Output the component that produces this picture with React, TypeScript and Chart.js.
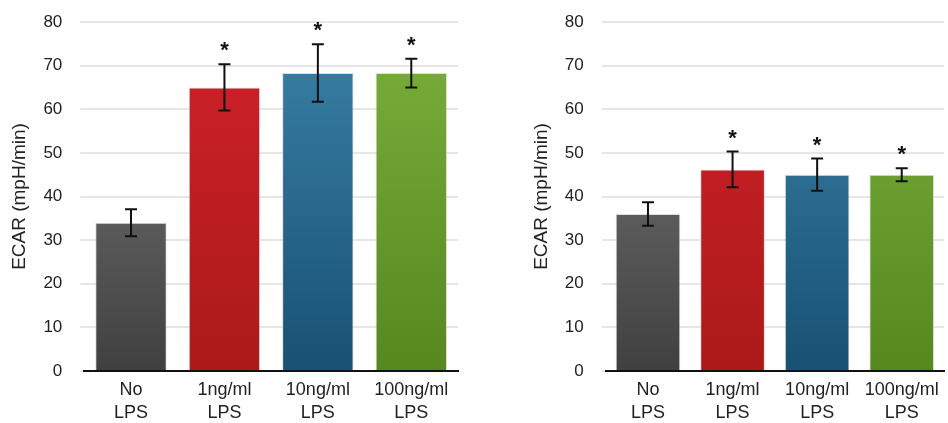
import React, { useEffect, useRef } from "react";
import { Chart, registerables } from "chart.js";

Chart.register(...registerables);

// Categories shown under both panels
const categories: string[][] = [
  ["No", "LPS"],
  ["1ng/ml", "LPS"],
  ["10ng/ml", "LPS"],
  ["100ng/ml", "LPS"],
];

// Left panel: ECAR means and error (±)
const leftValues = [34.0, 65.0, 68.3, 68.3];
const leftErrors = [3.1, 5.3, 6.6, 3.3];
const leftSignificant = [false, true, true, true];

// Right panel: ECAR means and error (±)
const rightValues = [36.0, 46.2, 45.0, 45.0];
const rightErrors = [2.7, 4.1, 3.7, 1.5];
const rightSignificant = [false, true, true, true];

const yTicks = [0, 10, 20, 30, 40, 50, 60, 70, 80];
const yTitle = "ECAR (mpH/min)";

// Gradient stops (top, bottom) per bar
const barGradients: [string, string][] = [
  ["#7d7d7d", "#404040"],
  ["#d0212a", "#ab1a19"],
  ["#3b82a8", "#175173"],
  ["#7bb03c", "#56881f"],
];

const FONT = "'Liberation Sans', Arial, Helvetica, sans-serif";

const errorBarPlugin = {
  id: "errorBars",
  afterDatasetsDraw(chart: any) {
    const opts = chart.options.plugins.errorBars;
    if (!opts) return;
    const { errors, significant } = opts;
    const meta = chart.getDatasetMeta(0);
    const yScale = chart.scales.y;
    const values = chart.data.datasets[0].data as number[];
    const ctx = chart.ctx;
    ctx.save();
    ctx.strokeStyle = "#111";
    ctx.lineWidth = 2;
    meta.data.forEach((bar: any, i: number) => {
      const x = bar.x;
      const top = yScale.getPixelForValue(values[i] + errors[i]);
      const bot = yScale.getPixelForValue(values[i] - errors[i]);
      const cap = 6;
      ctx.beginPath();
      ctx.moveTo(x, top);
      ctx.lineTo(x, bot);
      ctx.moveTo(x - cap, top);
      ctx.lineTo(x + cap, top);
      ctx.moveTo(x - cap, bot);
      ctx.lineTo(x + cap, bot);
      ctx.stroke();
      if (significant[i]) {
        ctx.fillStyle = "#111";
        ctx.font = `bold 22px ${FONT}`;
        ctx.textAlign = "center";
        ctx.textBaseline = "middle";
        ctx.fillText("*", x, top - 13);
      }
    });
    ctx.restore();
  },
};

function makeConfig(
  values: number[],
  errors: number[],
  significant: boolean[],
  padLeft: number,
  axisWidth: number,
  padRight: number
): any {
  return {
    type: "bar",
    data: {
      labels: categories,
      datasets: [
        {
          data: values,
          backgroundColor: (c: any) => {
            const area = c.chart.chartArea;
            const stops = barGradients[c.dataIndex % barGradients.length];
            if (!area) return stops[0];
            const g = c.chart.ctx.createLinearGradient(0, area.top, 0, area.bottom);
            g.addColorStop(0, stops[0]);
            g.addColorStop(1, stops[1]);
            return g;
          },
          borderColor: "rgba(210,210,210,0.7)",
          borderWidth: 1,
          barPercentage: 0.765,
          categoryPercentage: 1,
        },
      ],
    },
    options: {
      responsive: false,
      animation: false,
      layout: { padding: { top: 22, right: padRight, bottom: 0, left: padLeft } },
      plugins: {
        legend: { display: false },
        tooltip: { enabled: false },
        errorBars: { errors, significant },
      },
      scales: {
        x: {
          afterFit: (scale: any) => {
            scale.height = 52;
            scale.paddingLeft = 0;
            scale.paddingRight = 0;
          },
          grid: { display: false, drawTicks: false },
          border: { display: true, color: "#111", width: 2 },
          ticks: {
            color: "#222",
            padding: 8,
            maxRotation: 0,
            autoSkip: false,
            font: { family: FONT, size: 18, lineHeight: 1.25 },
          },
        },
        y: {
          min: 0,
          max: 80,
          afterBuildTicks: (scale: any) => {
            scale.ticks = yTicks.map((v) => ({ value: v }));
          },
          afterFit: (scale: any) => {
            scale.width = axisWidth;
            scale.paddingTop = 0;
            scale.paddingBottom = 0;
          },
          grid: {
            color: "#e6e6e6",
            lineWidth: 2,
            drawTicks: true,
            tickLength: 4,
            tickColor: "#e6e6e6",
          },
          border: { display: false },
          ticks: {
            color: "#222",
            padding: 18,
            font: { family: FONT, size: 17 },
          },
          title: {
            display: true,
            text: yTitle,
            color: "#222",
            padding: { top: 8, bottom: 0 },
            font: { family: FONT, size: 19 },
          },
        },
      },
    },
    plugins: [errorBarPlugin],
  };
}

function Panel(props: { cfg: () => any; left: number }) {
  const ref = useRef<HTMLCanvasElement | null>(null);
  useEffect(() => {
    if (!ref.current) return;
    const chart = new Chart(ref.current, props.cfg());
    return () => chart.destroy();
  }, []);
  return (
    <canvas
      ref={ref}
      width={474}
      height={423}
      style={{ position: "absolute", left: props.left, top: 0, width: 474, height: 423 }}
    />
  );
}

export default function App() {
  return (
    <div
      style={{
        position: "absolute",
        left: 0,
        top: 0,
        width: 948,
        height: 423,
        background: "#fff",
        overflow: "hidden",
      }}
    >
      <Panel
        left={0}
        cfg={() => makeConfig(leftValues, leftErrors, leftSignificant, 0, 84.3, 16)}
      />
      <Panel
        left={474}
        cfg={() => makeConfig(rightValues, rightErrors, rightSignificant, 48, 83.7, 4)}
      />
    </div>
  );
}
